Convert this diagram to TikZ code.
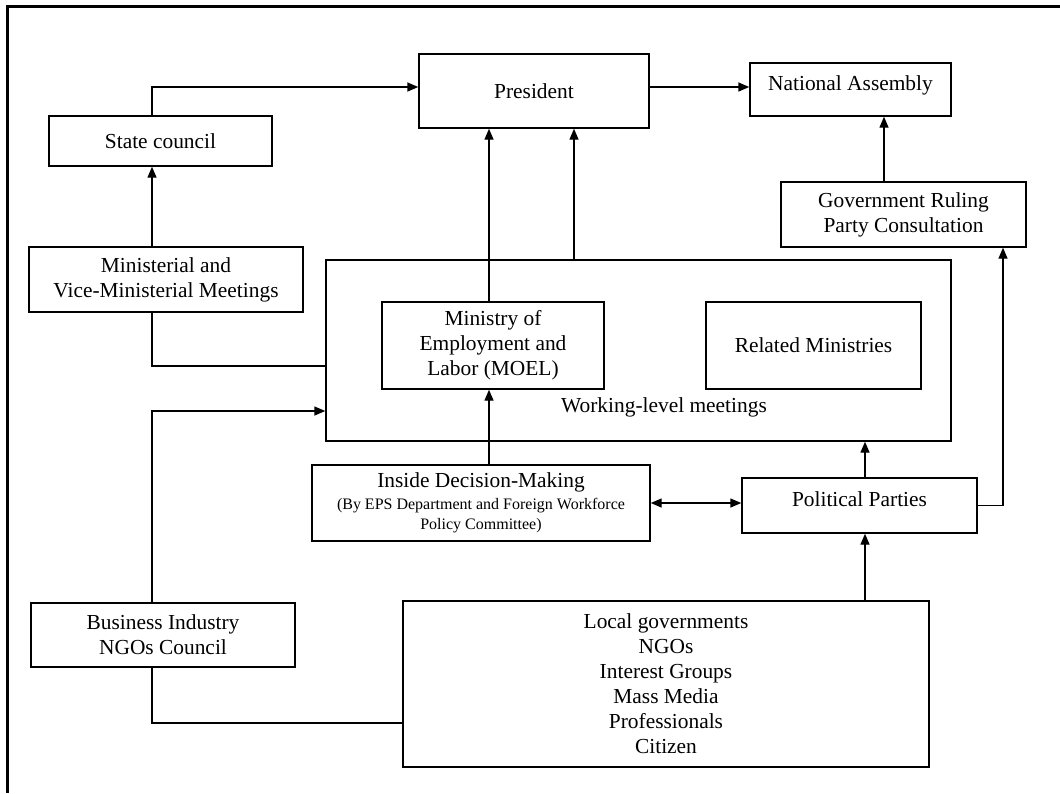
\documentclass[tikz,border=0pt]{standalone}
\usepackage{fontspec}
\setmainfont{Liberation Serif}
\usetikzlibrary{arrows.meta,calc}
\begin{document}
\begin{tikzpicture}[x=1pt,y=-1pt,
  box/.style={draw,line width=1.4pt,rectangle,inner sep=0pt,align=center,
    font=\fontsize{21.4}{25}\selectfont},
  conn/.style={line width=1.4pt},
  arr/.style={conn,-{Triangle[length=11pt,width=9pt]}},
  darr/.style={conn,{Triangle[length=11pt,width=9pt]}-{Triangle[length=11pt,width=9pt]}},
  lbl/.style={inner sep=0pt,font=\fontsize{21.4}{25}\selectfont}]
\useasboundingbox (0,0) rectangle (1060,793);
\draw[line width=3pt] (7.5,793) -- (7.5,6) -- (1060,6);

% helper coordinates (x positions of connectors, y positions of bends)
\coordinate (xl) at (152,0);
\coordinate (xm) at (489,0);
\coordinate (xp) at (574,0);
\coordinate (xna) at (884,0);
\coordinate (xpp) at (865,0);
\coordinate (xr) at (1003,0);
\coordinate (ytop) at (0,87);
\coordinate (ymin) at (0,366);
\coordinate (ybus) at (0,411);
\coordinate (ybot) at (0,723);

\node[box,minimum width=223pt,minimum height=50pt] (state) at (160.5,141) {State council};
\node[box,minimum width=230pt,minimum height=74pt] (pres) at (534,91) {President};
\node[box,minimum width=201pt,minimum height=53pt] (na) at (850.5,89.5) {National Assembly\\[-12pt]\mbox{}};
\node[box,minimum width=245pt,minimum height=65pt] (gov) at (903.5,214.5) {Government Ruling\\Party Consultation};
\node[box,minimum width=274pt,minimum height=65pt] (minis) at (166,279.5) {Ministerial and\\Vice-Ministerial Meetings};
\node[box,minimum width=625pt,minimum height=181pt] (work) at (638.5,350.5) {};
\node[box,minimum width=222pt,minimum height=87pt] (moel) at (493,345.5) {Ministry of\\Employment and\\Labor (MOEL)};
\node[box,minimum width=215pt,minimum height=87pt] (rel) at (813.5,345.5) {Related Ministries};
\node[lbl] (wl) at (664,407) {Working-level meetings};
\node[box,minimum width=338pt,minimum height=76pt] (inside) at (481,503) {Inside Decision-Making\\[-3pt]{\fontsize{16}{18.5}\selectfont (By EPS Department and Foreign Workforce}\\[-5pt]{\fontsize{16}{18.5}\selectfont Policy Committee)}};
\node[box,minimum width=235pt,minimum height=55pt] (pp) at (859.5,505.5) {Political Parties\\[-12pt]\mbox{}};
\node[box,minimum width=264pt,minimum height=64pt] (bus) at (163,635) {Business Industry\\NGOs Council};
\node[box,minimum width=526pt,minimum height=166pt] (local) at (666,684) {Local governments\\NGOs\\Interest Groups\\Mass Media\\Professionals\\Citizen};

% connectors
\draw[arr] (state.north -| xl) |- (pres.west |- ytop);
\draw[arr] (pres.east |- ytop) -- (na.west |- ytop);
\draw[arr] (gov.north -| xna) -- (na.south -| xna);
\draw[arr] (moel.north -| xm) -- (pres.south -| xm);
\draw[arr] (work.north -| xp) -- (pres.south -| xp);
\draw[arr] (minis.north -| xl) -- (state.south -| xl);
\draw[conn] (minis.south -| xl) |- (work.west |- ymin);
\draw[arr] (bus.north -| xl) |- (work.west |- ybus);
\draw[conn] (bus.south -| xl) |- (local.west |- ybot);
\draw[arr] (inside.north -| xm) -- (moel.south -| xm);
\draw[darr] (inside.east) -- (inside.east -| pp.west);
\draw[arr] (pp.north -| xpp) -- (work.south -| xpp);
\draw[arr] (local.north -| xpp) -- (pp.south -| xpp);
\draw[arr] (pp.east) -| (gov.south -| xr);
\end{tikzpicture}
\end{document}
